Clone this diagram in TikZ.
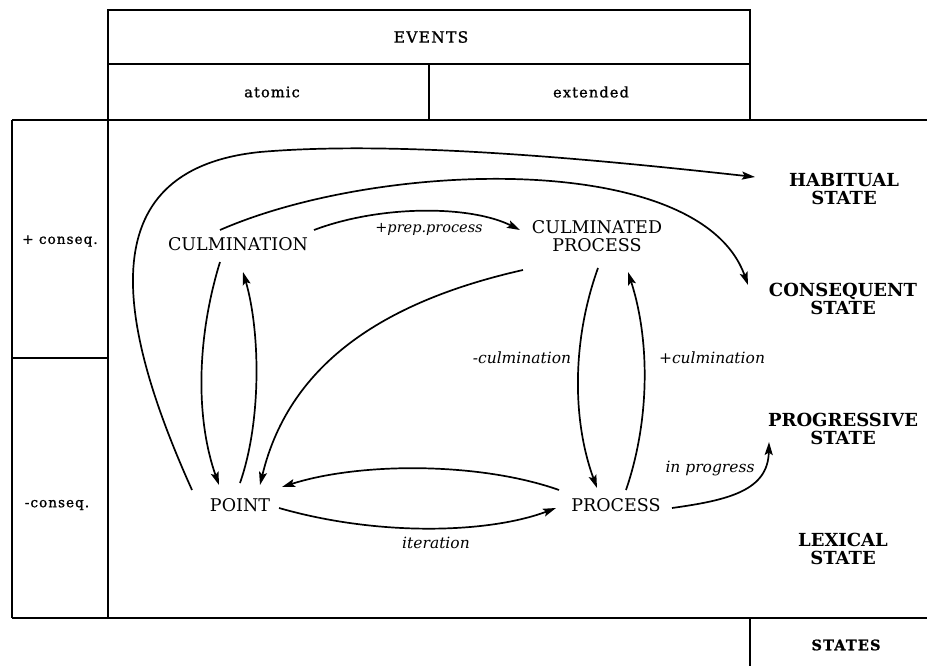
\documentclass[tikz,border=0pt]{standalone}
\usepackage{fontspec}
\setmainfont{DejaVu Serif}
\newfontfamily\hdrfont[LetterSpace=8,FakeBold=1.2]{DejaVu Serif}
\usetikzlibrary{arrows.meta}
\begin{document}
\begin{tikzpicture}[x=1pt,y=-1pt,
  frame/.style={line width=1.7pt},
  conn/.style={line width=1.7pt,-{Stealth[length=13pt,width=8pt,inset=2.5pt]}},
  st/.style={font=\fontsize{17.5}{18}\selectfont,align=center,inner sep=0pt},
  bst/.style={font=\bfseries\fontsize{18}{18}\selectfont,align=center,inner sep=0pt},
  lab/.style={font=\itshape\fontsize{15.5}{17}\selectfont,inner sep=0pt},
  hdr/.style={font=\hdrfont\fontsize{14.5}{16}\selectfont,inner sep=0pt}]
\useasboundingbox (0,0) rectangle (927,666);
% frames
\draw[frame] (108,10) rectangle (750,64);
\draw[frame] (108,64) -- (108,618);
\draw[frame] (750,64) -- (750,120);
\draw[frame] (429,64) -- (429,120);
\draw[frame] (12,120) -- (927,120);
\draw[frame] (12,618) -- (927,618);
\draw[frame] (12,120) -- (12,618);
\draw[frame] (12,358) -- (108,358);
\draw[frame] (750,618) -- (750,666);
% headers
\node[hdr,font=\hdrfont\fontsize{15.5}{17}\selectfont] (events) at (431,37) {EVENTS};
\node[hdr] (atomic) at (272,92) {atomic};
\node[hdr] (extended) at (591,92) {extended};
\node[hdr,font=\hdrfont\fontsize{13.5}{15}\selectfont] (pcons) at (60,241) {+ conseq.};
\node[hdr,font=\hdrfont\fontsize{13.5}{15}\selectfont] (mcons) at (57,505) {-conseq.};
\node[hdr,font=\hdrfont\bfseries\fontsize{14.5}{16}\selectfont] (states) at (846,645) {STATES};
% event nodes
\node[st] (culm) at (238,244) {CULMINATION};
\node[st] (cproc) at (597,236) {CULMINATED\\PROCESS};
\node[st] (point) at (240,505) {POINT};
\node[st] (proc) at (616,505) {PROCESS};
% state nodes
\node[bst] (hab) at (844,189) {HABITUAL\\STATE};
\node[bst] (cons) at (843,299) {CONSEQUENT\\STATE};
\node[bst] (prog) at (843,429) {PROGRESSIVE\\STATE};
\node[bst] (lex) at (843,549) {LEXICAL\\STATE};
% labels
\node[lab,font=\itshape\fontsize{14.5}{16}\selectfont] (lprep) at (429,229) {+prep.process};
\node[lab] (lmculm) at (522,358) {-culmination};
\node[lab] (lpculm) at (712,358) {+culmination};
\node[lab] (liter) at (436,543) {iteration};
\node[lab] (lprog) at (710,469) {in progress};
% connectors
\draw[conn] ([shift={(-48,-15)}]point.center) .. controls (120,330) and (85,170) .. (260,152)
   .. controls (400,140) and (600,160) .. ([shift={(-89,-12)}]hab.center);
\draw[conn] ([shift={(-18,-14)}]culm.center) .. controls (380,160) and (700,150) .. ([shift={(-95,-14)}]cons.center);
\draw[conn] ([shift={(76,-14)}]culm.center) .. controls (380,205) and (470,205) .. ([shift={(-77,-6)}]cproc.center);
\draw[conn] ([shift={(-18,18)}]culm.center) .. controls (196,340) and (196,420) .. ([shift={(-21,-20)}]point.center);
\draw[conn] ([shift={(0,-22)}]point.center) .. controls (262,420) and (260,330) .. ([shift={(5,28)}]culm.center);
\draw[conn] ([shift={(-74,34)}]cproc.center) .. controls (390,300) and (290,360) .. ([shift={(20,-20)}]point.center);
\draw[conn] ([shift={(1,32)}]cproc.center) .. controls (572,340) and (572,420) .. ([shift={(-19,-17)}]proc.center);
\draw[conn] ([shift={(10,-15)}]proc.center) .. controls (650,420) and (650,340) .. ([shift={(31,36)}]cproc.center);
\draw[conn] ([shift={(-57,-15)}]proc.center) .. controls (480,462) and (360,462) .. ([shift={(42,-18)}]point.center);
\draw[conn] ([shift={(39,3)}]point.center) .. controls (380,537) and (490,533) .. ([shift={(-60,3)}]proc.center);
\draw[conn] ([shift={(56,3)}]proc.center) .. controls (730,500) and (768,490) .. ([shift={(-74,13)}]prog.center);
\end{tikzpicture}
\end{document}
